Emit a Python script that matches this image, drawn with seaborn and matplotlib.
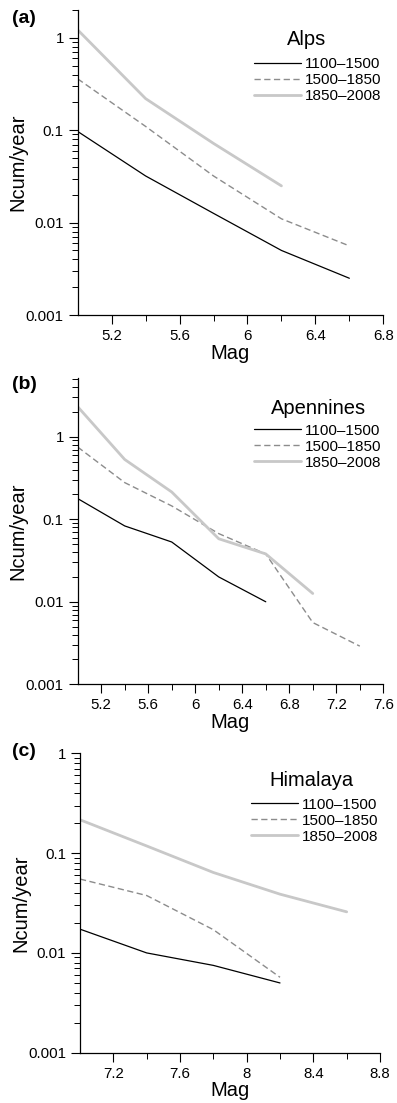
import matplotlib
matplotlib.use("Agg")
import matplotlib.pyplot as plt
import matplotlib.ticker as mticker
import seaborn as sns
import pandas as pd

sns.set_theme(style="ticks")
plt.rcParams['font.family'] = ['Liberation Sans', 'DejaVu Sans']
plt.rcParams['text.color'] = 'black'
plt.rcParams['axes.labelcolor'] = 'black'

periods = ["1100\u20131500", "1500\u20131850", "1850\u20132008"]

# Panel (a) Alps
alps_mag = [5.0, 5.4, 5.8, 6.2, 6.6]
alps_1100 = [0.097, 0.032, 0.0126, 0.005, 0.0025]
alps_1500 = [0.36, 0.11, 0.032, 0.011, 0.0056]
alps_1850 = [1.22, 0.22, 0.072, 0.025]

# Panel (b) Apennines
apen_mag = [5.0, 5.4, 5.8, 6.2, 6.6, 7.0, 7.4]
apen_1100 = [0.178, 0.083, 0.053, 0.020, 0.010]
apen_1500 = [0.75, 0.278, 0.145, 0.067, 0.038, 0.0056, 0.0029]
apen_1850 = [2.31, 0.53, 0.214, 0.058, 0.038, 0.0126]

# Panel (c) Himalaya
him_mag = [7.0, 7.4, 7.8, 8.2, 8.6]
him_1100 = [0.0173, 0.010, 0.0075, 0.005]
him_1500 = [0.055, 0.0376, 0.0171, 0.0057]
him_1850 = [0.216, 0.118, 0.064, 0.0388, 0.0258]

yticks = [0.001, 0.01, 0.1, 1]
ytick_labels = ["0.001", "0.01", "0.1", "1"]

alps_xt = [5.2, 5.6, 6.0, 6.4, 6.8]
alps_xl = ["5.2", "5.6", "6", "6.4", "6.8"]
alps_xminor = [5.4, 5.8, 6.2, 6.6]
apen_xt = [5.2, 5.6, 6.0, 6.4, 6.8, 7.2, 7.6]
apen_xl = ["5.2", "5.6", "6", "6.4", "6.8", "7.2", "7.6"]
apen_xminor = [5.4, 5.8, 6.2, 6.6, 7.0, 7.4]
him_xt = [7.2, 7.6, 8.0, 8.4, 8.8]
him_xl = ["7.2", "7.6", "8", "8.4", "8.8"]
him_xminor = [7.4, 7.8, 8.2, 8.6]

panels = [
    dict(tag="(a)", name="Alps", mag=alps_mag, series=[alps_1100, alps_1500, alps_1850],
         xlim=(5.0, 6.8), ylim=(0.001, 2.0), xt=alps_xt, xl=alps_xl, xm=alps_xminor,
         rect=[0.1957, 0.7144, 0.7698, 0.2765], tagpos=(-0.215, 1.0),
         titlepos=(0.75, 0.905), legy=0.845),
    dict(tag="(b)", name="Apennines", mag=apen_mag, series=[apen_1100, apen_1500, apen_1850],
         xlim=(5.0, 7.6), ylim=(0.001, 5.1), xt=apen_xt, xl=apen_xl, xm=apen_xminor,
         rect=[0.1957, 0.3796, 0.7698, 0.2774], tagpos=(-0.215, 1.006),
         titlepos=(0.787, 0.902), legy=0.852),
    dict(tag="(c)", name="Himalaya", mag=him_mag, series=[him_1100, him_1500, him_1850],
         xlim=(7.0, 8.8), ylim=(0.001, 1.0), xt=him_xt, xl=him_xl, xm=him_xminor,
         rect=[0.2015, 0.0456, 0.7557, 0.2714], tagpos=(-0.227, 1.034),
         titlepos=(0.773, 0.908), legy=0.852),
]

styles = [
    dict(color="black", lw=0.9, ls="-"),
    dict(color="#8c8c8c", lw=1.0, ls=(0, (4.5, 2.5))),
    dict(color="#c8c8c8", lw=2.0, ls="-"),
]

fig = plt.figure(figsize=(3.97, 11.03), dpi=100)

for p in panels:
    ax = fig.add_axes(p["rect"])
    for per, vals, st in zip(periods, p["series"], styles):
        df = pd.DataFrame({"Mag": p["mag"][:len(vals)], "N": vals})
        sns.lineplot(data=df, x="Mag", y="N", ax=ax, color=st["color"],
                     linewidth=st["lw"], linestyle=st["ls"], label=per)
    ax.set_yscale("log")
    ax.set_xlim(*p["xlim"])
    ax.set_ylim(*p["ylim"])
    ax.set_yticks(yticks)
    ax.set_yticklabels(ytick_labels)
    ax.yaxis.set_minor_locator(mticker.LogLocator(base=10, subs=range(2, 10), numticks=20))
    ax.yaxis.set_minor_formatter(mticker.NullFormatter())
    ax.set_xticks(p["xt"])
    ax.set_xticklabels(p["xl"])
    ax.set_xticks(p["xm"], minor=True)
    ax.tick_params(axis="both", which="major", length=6.5, width=0.8, direction="out",
                   labelsize=10.8, colors="black")
    ax.tick_params(axis="both", which="minor", length=4, width=0.7, direction="out",
                   colors="black")
    ax.tick_params(axis="x", which="major", pad=3.5)
    ax.tick_params(axis="y", which="major", pad=3.5)
    for s in ["top", "right"]:
        ax.spines[s].set_visible(False)
    for s in ["left", "bottom"]:
        ax.spines[s].set_color("black")
        ax.spines[s].set_linewidth(0.9)
    ax.set_xlabel("Mag", fontsize=14.5, labelpad=0.5, color="black")
    ax.set_ylabel("Ncum/year", fontsize=14.5, color="black")
    ax.yaxis.set_label_coords(-0.165, 0.5)
    ax.set_facecolor("white")
    leg = ax.legend(loc="upper right", frameon=False, fontsize=11,
                    handlelength=3.1, handletextpad=0.25,
                    labelspacing=0.13, borderpad=0.0, borderaxespad=0.0,
                    bbox_to_anchor=(0.995, p["legy"]))
    for t in leg.get_texts():
        t.set_color("black")
    ax.text(p["titlepos"][0], p["titlepos"][1], p["name"], transform=ax.transAxes,
            fontsize=14.5, ha="center", va="center", color="black")
    ax.text(p["tagpos"][0], p["tagpos"][1], p["tag"], transform=ax.transAxes, fontsize=14,
            fontweight="bold", va="top", ha="left", color="black")

fig.savefig("out.png", dpi=100, facecolor="white")
